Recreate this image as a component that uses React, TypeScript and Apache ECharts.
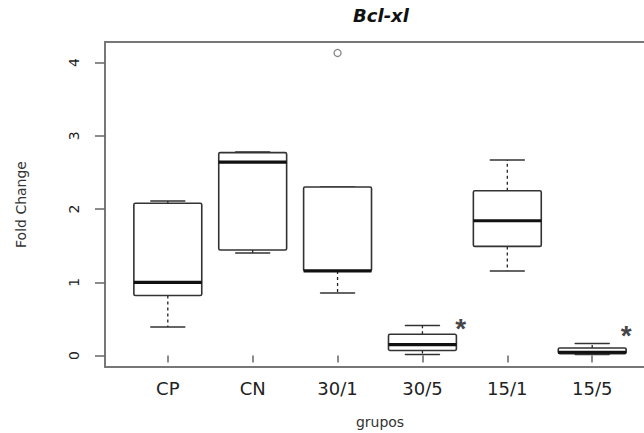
import React, { useEffect, useRef } from "react";
import * as echarts from "echarts";

const categories = ["CP", "CN", "30/1", "30/5", "15/1", "15/5"];
const mins = [0.39, 1.4, 0.855, 0.015, 1.155, 0.015];
const q1s = [0.82, 1.44, 1.155, 0.07, 1.49, 0.027];
const medians = [1.0, 2.64, 1.155, 0.15, 1.84, 0.045];
const q3s = [2.08, 2.77, 2.3, 0.29, 2.25, 0.104];
const maxs = [2.11, 2.78, 2.3, 0.41, 2.67, 0.164];
const outliers = [[3, 4.13]];
const sigMarks = [
  [4.45, 0.455],
  [6.4, 0.35],
];
const yTicks = [0, 1, 2, 3, 4];
const xTicks = categories.map((_, i) => i + 1);

export default function App() {
  const ref = useRef<HTMLDivElement>(null);
  useEffect(() => {
    if (!ref.current) return;
    const chart = echarts.init(ref.current, null, { renderer: "svg" });
    const boxData = categories.map((_, i) => [i + 1, mins[i], q1s[i], medians[i], q3s[i], maxs[i]]);
    const stroke = "#333";
    chart.setOption({
      animation: false,
      backgroundColor: "#fff",
      title: {
        text: "Bcl-xl",
        left: 376,
        textAlign: "center",
        top: 1,
        textStyle: {
          fontFamily: "DejaVu Sans",
          fontSize: 18,
          fontWeight: "bold",
          fontStyle: "italic",
          color: "#111",
        },
      },
      grid: {
        left: 105,
        right: -11,
        top: 42,
        bottom: 66,
        show: true,
        borderColor: "#777",
        borderWidth: 2,
        containLabel: false,
        outerBoundsMode: "none",
      },
      xAxis: {
        type: "value",
        min: 0.26,
        max: 6.74,
        name: "grupos",
        nameLocation: "middle",
        nameGap: 48,
        nameTextStyle: { fontFamily: "DejaVu Sans", fontSize: 14, color: "#333" },
        axisLine: { show: false },
        splitLine: { show: false },
        axisTick: {
          show: true,
          customValues: xTicks,
          length: 7,
          lineStyle: { color: "#666", width: 1.5 },
        },
        axisLabel: {
          customValues: xTicks,
          margin: 12,
          fontFamily: "DejaVu Sans",
          fontSize: 18,
          color: "#222",
          formatter: (v: number) => categories[Math.round(v) - 1] ?? "",
        },
      },
      yAxis: {
        type: "value",
        min: -0.156,
        max: 4.28,
        name: "Fold Change",
        nameLocation: "middle",
        nameRotate: 90,
        nameGap: 77,
        nameTextStyle: { fontFamily: "DejaVu Sans", fontSize: 14, color: "#333" },
        axisLine: { show: false },
        splitLine: { show: false },
        axisTick: {
          show: true,
          customValues: yTicks,
          length: 10,
          lineStyle: { color: "#666", width: 1.5 },
        },
        axisLabel: {
          customValues: yTicks,
          rotate: 90,
          margin: 24,
          fontFamily: "DejaVu Sans",
          fontSize: 14,
          color: "#222",
        },
      },
      series: [
        {
          type: "custom",
          data: boxData,
          encode: { x: 0, y: [1, 2, 3, 4, 5] },
          renderItem: (params: any, api: any) => {
            const x = api.value(0);
            const c = (v: number) => api.coord([x, v]);
            const [cx, yMin] = c(api.value(1));
            const yQ1 = c(api.value(2))[1];
            const yMed = c(api.value(3))[1];
            const yQ3 = c(api.value(4))[1];
            const yMax = c(api.value(5))[1];
            const w = api.size([0.8, 0])[0];
            const cap = w / 4;
            const solid = { stroke, lineWidth: 1.5, lineCap: "round" };
            const dashed = { stroke: "#222", lineWidth: 1.3, lineDash: [3, 3] };
            return {
              type: "group",
              children: [
                { type: "line", shape: { x1: cx, y1: yQ3, x2: cx, y2: yMax }, style: dashed },
                { type: "line", shape: { x1: cx, y1: yQ1, x2: cx, y2: yMin }, style: dashed },
                { type: "line", shape: { x1: cx - cap, y1: yMax, x2: cx + cap, y2: yMax }, style: solid },
                { type: "line", shape: { x1: cx - cap, y1: yMin, x2: cx + cap, y2: yMin }, style: solid },
                {
                  type: "rect",
                  shape: { x: cx - w / 2, y: yQ3, width: w, height: yQ1 - yQ3, r: 1.5 },
                  style: { fill: "#fff", stroke, lineWidth: 1.6 },
                },
                {
                  type: "line",
                  shape: { x1: cx - w / 2, y1: yMed, x2: cx + w / 2, y2: yMed },
                  style: { stroke: "#111", lineWidth: 3.2 },
                },
              ],
            };
          },
        },
        {
          type: "scatter",
          data: outliers,
          symbol: "circle",
          symbolSize: 7,
          itemStyle: { color: "rgba(255,255,255,0)", borderColor: "#666", borderWidth: 1.3 },
          z: 5,
        },
        {
          type: "scatter",
          data: sigMarks,
          symbolSize: 0,
          label: {
            show: true,
            position: "inside",
            formatter: "*",
            fontFamily: "Liberation Sans",
            fontSize: 28,
            fontWeight: "bold",
            color: "#111",
            offset: [0, 6],
          },
        },
      ],
    });
    return () => chart.dispose();
  }, []);
  return (
    <div
      ref={ref}
      style={{ position: "fixed", left: 0, top: 0, width: 644, height: 433, background: "#fff" }}
    />
  );
}
